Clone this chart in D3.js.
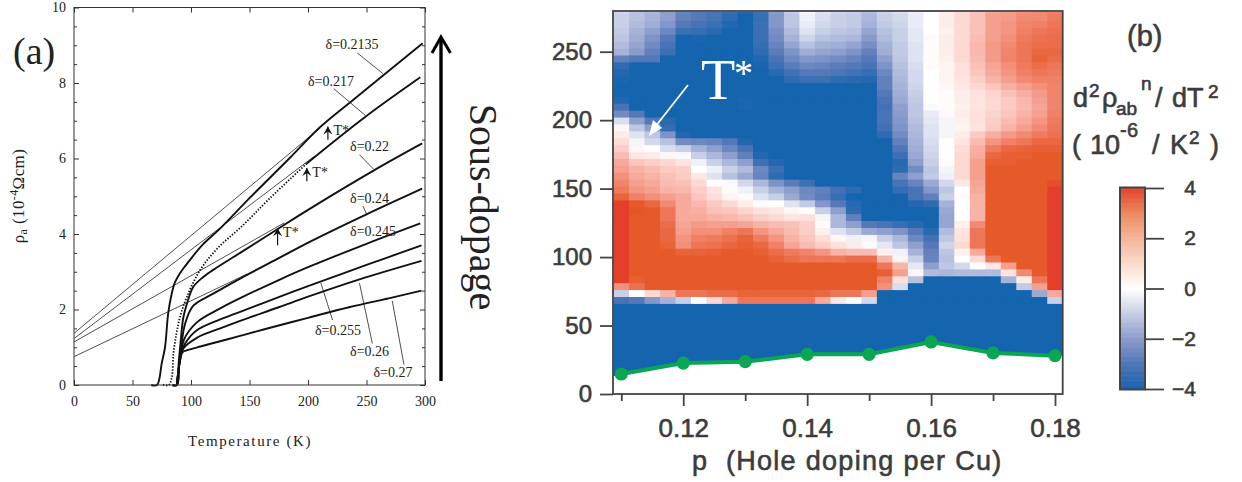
<!DOCTYPE html>
<html><head><meta charset="utf-8"><script src="https://cdn.jsdelivr.net/npm/d3@7"></script>
<style>html,body{margin:0;padding:0;background:#fff}svg{display:block}
.s{font-family:"Liberation Serif",serif;fill:#222}
.h{font-family:"Liberation Sans",Arial,sans-serif;fill:#3c3c3c;stroke:#3c3c3c;stroke-width:.6}</style></head><body>
<svg id="c" width="1242" height="482"></svg>
<script>
// Panel (a): resistivity curves, temperature (K) and rho (10^-4 ohm cm)
const xTicksA=[0,50,100,150,200,250,300], yTicksA=[0,2,4,6,8,10], yMinorA=[.5,1,1.5,2.5,3,3.5,4.5,5,5.5,6.5,7,7.5,8.5,9,9.5];
const t2135=[66,71,75,77.8,80.5,83.6,86,90.6,95,100,110,125,150,184.6,210,238.5,298];
const r2135=[0,0,.58,1,1.9,2.43,2.7,2.96,3.15,3.35,3.72,4.15,4.95,6.02,6.82,7.55,9.05];
const t217dot=[76,81,83.6,85,87.5,90.6,96.4,107.7,122,145,167.5,199];
const r217dot=[0,0,.2,.84,1.35,1.8,2.33,3.04,3.6,4.25,4.95,5.87];
const t217=[199,248,296], r217=[5.87,7.08,8.15];
const t22=[84,88,89.5,91,93.5,97,102,110,119,142,173.5,199,256,297.6];
const r22=[0,0,.6,1.1,1.8,2.2,2.6,2.85,3.05,3.5,4.12,4.62,5.68,6.4];
const t24=[84,88,90,92,95,102,119,142,175,204,250,297.6];
const r24=[0,0,.6,1.1,1.63,2.1,2.42,2.82,3.36,3.83,4.52,5.2];
const t245=[88,90,92,94,105,125,142,175,200,250,296];
const r245=[0,.55,.85,1.2,1.66,2.03,2.3,2.78,3.12,3.74,4.28];
const t255=[88,90,92,95,105,125,142,175,200,250,297];
const r255=[0,.55,.85,1.1,1.45,1.74,1.94,2.33,2.62,3.18,3.7];
const t26=[88,90,93,105,125,142,175,200,244,297];
const r26=[0,.55,.95,1.25,1.5,1.7,2.06,2.34,2.8,3.29];
const t27=[88,90,92,100,108,125,142,162,200,235,272.6,297];
const r27=[0,.55,.85,.95,1.02,1.16,1.3,1.47,1.78,2.06,2.32,2.5];
const thinT=[[0,210],[0,205],[0,180],[0,148]], thinR=[[1.37,6.8],[1.23,6.05],[1.14,4.3],[.75,2.94]];
const deltaLabels=["δ=0.2135","δ=0.217","δ=0.22","δ=0.24","δ=0.245","δ=0.255","δ=0.26","δ=0.27"];
const deltaLabelT=[215,200,236,236,236,206,236,256], deltaLabelR=[8.91,7.91,6.21,4.81,3.96,1.32,.76,.21];
const leaderT0=[242,222,244,247,0,211,244,272], leaderR0=[8.8,7.85,6.1,4.74,0,2.7,2.7,2.23];
const leaderT1=[264,249,256,250.5,0,221,255,282], leaderR1=[8.25,7.14,5.72,4.5,0,1.72,1.1,.54];
const starT=[217,199,174], starR0=[6.5,5.4,3.7], starR1=[6.85,5.75,4.15];

// Panel (b): d2rho/dT2 map. Rows run from T=280 downward, columns p=0.11 to 0.18 in 0.0025 steps
const pStart=.11, pStep=.0025, tTop=280, tStep=5.04;
const B=-4;
const heat=[
[-.9,-1.3,-1.5,-2,-2.7,-3,-3.2,-3.5,-3.9,-3.4,-2.1,-1.1,-.2,-.6,-.9,-1,-1.4,-.9,-.7,-.3,0,.5,1,1.5,2.1,2.3,2.5,2.6,2.8],
[-1,-1.3,-1.6,-2,-2.8,-3,-3.2,-3.6,-4,-3.5,-2.2,-1.2,-.3,-.7,-1,-1.1,-1.5,-1,-.8,-.4,0,.5,1,1.5,2.2,2.3,2.6,2.6,2.9],
[-1,-1.4,-1.7,-2.2,-3,-3.2,-3.4,-3.8,-4,-3.4,-2.2,-1.2,-.4,-.8,-1,-1.1,-1.6,-1.1,-.9,-.4,0,.5,1,1.5,2.2,2.4,2.7,2.8,3],
[-1.1,-1.6,-2,-2.6,-3.4,-3.5,-3.7,-4,-4,-3.4,-2.4,-1.4,-.6,-1,-1.2,-1.3,-1.9,-1.3,-1,-.5,0,.4,1,1.5,2.2,2.4,2.8,3,3.1],
[-1.2,-1.7,-2.3,-3,-4,-3.9,-4,-4,-4,-3.4,-2.5,-1.6,-.9,-1.3,-1.4,-1.5,-2.1,-1.4,-1,-.5,.1,.5,1,1.6,2.2,2.5,2.9,3.1,3.2],
[-1.4,-1.9,-2.5,-3.2,-4,-4,-4,-4,-4,-3.5,-2.7,-1.9,-1.3,-1.6,-1.7,-1.9,-2.4,-1.6,-1.1,-.6,.1,.5,1,1.7,2.3,2.6,3,3.2,3.2],
[-1.6,-2.1,-2.8,-3.4,-4,-4,-4,-4,-4,-3.6,-2.9,-2.3,-1.7,-1.9,-2,-2.3,-2.8,-1.7,-1.1,-.6,.1,.5,1,1.7,2.3,2.7,3,3.3,3.3],
[-2.8,-3,-3,-4,-4,-4,-4,-4,-4,-3.8,-3.2,-2.6,-2.2,-2.3,-2.5,-2.7,-3,-2,-1.2,-.6,.1,.4,1,1.6,2.3,2.7,3,3.4,3.2],
[-3.6,-4,-4,-4,-4,-4,-4,-4,-4,-3.9,-3.4,-2.9,-2.6,-2.7,-2.9,-3,-3.2,-2.3,-1.3,-.7,.1,.3,.8,1.5,2.1,2.5,2.9,3.2,3],
[-3.8,-4,-4,-4,-4,-4,-4,-4,-4,-4,-3.7,-3.3,-3,-3,-3.1,-3.3,-3.5,-2.6,-1.4,-.8,0,.3,.8,1.4,2,2.4,2.8,3,2.9],
[-3.9,-4,-4,-4,-4,-4,-4,-4,-4,-4,-4,-3.6,-3.4,-3.4,-3.6,-3.7,-3.8,-2.8,-1.5,-.8,0,.3,.7,1.2,1.8,2.2,2.6,2.8,2.8],
[-4,-4,-4,-4,-4,-4,-4,-4,-4,-4,-4,-4,-4,-4,-4,-4,-4,-2.8,-1.6,-.9,0,.2,.6,1,1.4,1.9,2.2,2.5,2.7],
[-4,-4,-4,-4,-4,-4,-4,-4,-4,-4,-4,-4,-4,-4,-4,-4,-4,-3,-1.7,-1,0,.1,.5,.8,1.1,1.5,1.9,2.3,2.7],
[-3.8,-4,-4,-4,-4,-4,-4,-4,-3.9,-4,-4,-4,-4,-4,-4,-4,-4,-3.2,-1.8,-1.1,0,.1,.5,.7,1,1.3,1.7,2.2,2.7],
[-3.2,-4,-4,-4,-4,-4,-4,-4,-3.9,-4,-4,-4,-4,-4,-4,-4,-4,-3.3,-2,-1.2,-.1,.1,.4,.7,1,1.3,1.7,2.1,2.7],
[-2.5,-3,-4,-4,-4,-4,-4,-4,-4,-4,-4,-4,-4,-4,-4,-4,-4,-3.2,-2.1,-1.2,-.4,-.1,.5,.8,1.1,1.4,1.8,2.2,2.8],
[-.7,-2,-3,-3.7,-4,-4,-4,-4,-4,-4,-4,-4,-4,-4,-4,-4,-4,-3.2,-2.2,-1.3,-.5,-.2,.4,.8,1.2,1.6,2,2.4,2.9],
[.2,-1.2,-2,-3.5,-4,-4,-4,-4,-4,-4,-4,-4,-4,-4,-4,-4,-4,-3.3,-2.3,-1.4,-.6,-.2,.3,.7,1.3,1.8,2.2,2.6,3],
[.5,-.6,-1.2,-2.3,-3.8,-4,-4,-4,-4,-4,-4,-4,-4,-4,-4,-4,-4,-3.6,-2.5,-1.5,-.6,-.2,.5,1.3,1.9,2.3,2.6,2.9,3.1],
[.9,-.2,-.8,-1.3,-2.5,-2.6,-2.7,-3,-3.8,-4,-4,-4,-4,-4,-4,-4,-4,-4,-2.8,-1.6,-.7,0,.7,1.6,2.4,2.8,3,3.3,3.3],
[1.2,.2,0,-.7,-1,-1.6,-2,-2.6,-3.2,-4,-4,-4,-4,-4,-4,-4,-4,-4,-3.1,-1.7,-.8,0,.9,1.9,2.9,3.3,3.4,3.5,3.5],
[1.6,.6,.5,.2,-.1,-1,-1.5,-2,-2.8,-3.8,-4,-4,-4,-4,-4,-4,-4,-4,-3.4,-1.8,-.9,0,1,2,3.3,3.5,3.5,3.6,3.6],
[2,1.4,1.2,1,.7,-.3,-1,-1.5,-2,-3.4,-3.8,-4,-4,-4,-4,-4,-4,-4,-3.7,-2,-1,.1,1,2.2,3.5,3.5,3.6,3.6,3.6],
[2.2,1.8,1.6,1.3,1.2,0,-.3,-1,-1.4,-2.6,-3.4,-4,-4,-4,-4,-4,-4,-4,-3.6,-2.5,-1.2,-.2,1,2.2,3.6,3.6,3.6,3.6,3.6],
[2.5,2,1.8,1.5,1.3,.6,-.6,-1.3,-1.8,-2.7,-3.6,-4,-4,-4,-4,-4,-4,-4,-2.7,-2,-1.1,-.3,1,2.2,3.6,3.6,3.6,3.6,3.6],
[2.7,2.2,2,1.6,1.5,1,0,-.1,-.8,-1.5,-2.3,-2.9,-3.4,-4,-4,-4,-4,-4,-3.2,-2.7,-1.8,-.8,.6,2.1,3.6,3.6,3.6,3.6,3.8],
[2.9,2.4,2.2,1.8,1.7,1.2,.7,.1,-.3,-1,-1.6,-2,-2.6,-2.8,-3.3,-3.6,-4,-4,-3.5,-3.2,-2.2,-1.2,0,2,3.6,3.6,3.6,3.6,4],
[3.4,2.8,2.5,2.2,2,1.4,.9,.3,.1,-.6,-1,-1.8,-2.5,-2.9,-3.5,-4,-4,-4,-4,-3.2,-2.8,-1,.1,1.8,3.6,3.6,3.6,3.6,4],
[4,3.6,3.3,2.6,2,1.7,1.3,1,.5,.1,0,-.6,-1.1,-2.2,-3,-3.7,-4,-4,-4,-3.8,-3.6,-1.6,0,1.8,3.6,3.6,3.6,3.6,4],
[4,3.7,3.6,3,2,1.9,1.5,1.4,1.1,.8,.6,.2,0,-1,-2,-3.6,-4,-4,-4,-4,-4,-1.8,0,1.8,3.6,3.6,3.6,3.6,4],
[4,3.6,3.6,3,2,2,1.8,1.7,1.5,1.2,1,.7,.8,-.2,-1.5,-2.8,-4,-4,-4,-4,-4,-1.9,0,1.8,3.6,3.6,3.6,3.6,4],
[4,3.6,3.6,3.2,2.1,2.3,2.2,2.2,2.1,1.8,1.6,1.5,1.2,.1,-1.5,-2,-3,-3.2,-3.5,-3.7,-4,-1.9,.4,2.6,3.6,3.6,3.6,3.6,4],
[4,3.6,3.6,3.3,2.2,2.5,2.5,2.8,3,2.4,2,1.6,1.2,.4,-.6,-1.1,-1.8,-2,-2.3,-3,-3.7,-1.4,.7,3,3.6,3.6,3.6,3.6,4],
[4,3.6,3.6,3.3,2.4,2.8,2.9,3.1,3.4,2.9,2.4,1.8,1.4,.9,.2,-.3,-.2,-1,-1.5,-2.6,-3.3,-1.2,.8,3,3.6,3.6,3.6,3.6,4],
[4,3.6,3.6,3.4,2.5,3,3.1,3.3,3.5,3.3,2.8,2.1,1.6,1.2,.8,.5,.1,-.5,-1.2,-2,-3,-.9,1,3,3.6,3.6,3.6,3.6,4],
[4,3.6,3.6,3.6,3.4,3.4,3.5,3.6,3.6,3.5,3.2,2.9,2.7,2.4,1.8,1.6,1.6,.4,-.3,-1.6,-2.8,-1.2,.4,2,3.6,3.6,3.6,3.6,4],
[4,3.6,3.6,3.6,3.6,3.6,3.6,3.6,3.6,3.6,3.4,3.2,3,3,3,3.2,3.2,1.8,.3,-1,-2.7,-1.3,0,1,3,3.6,3.6,3.6,4],
[4,3.6,3.6,3.6,3.6,3.6,3.6,3.6,3.6,3.6,3.6,3.6,3.6,3.6,3.6,3.6,3.6,3,1.8,-.5,-2,-1.2,-.8,0,.6,2.2,3.6,3.6,4],
[4,3.6,3.6,3.6,3.6,3.6,3.6,3.6,3.6,3.6,3.6,3.6,3.6,3.6,3.6,3.6,3.6,3.5,2.2,.3,-1.4,-1.5,-1.4,-1.4,-1.4,.7,2.6,3.6,4],
[4,3.5,3.6,3.6,3.6,3.6,3.6,3.6,3.6,3.6,3.6,3.6,3.6,3.6,3.6,3.6,3.6,2.8,.8,-1.3,-4,-4,-4,-4,-4,-1.6,.5,3,4],
[2.5,3.1,3.6,3.6,3.6,3.6,3.6,3.6,3.6,3.6,3.6,3.6,3.6,3.6,3.6,3.6,3.6,2.5,-.7,-4,-4,-4,-4,-4,-4,-4,-1.1,2.2,4],
[-1,0,1,1.8,3,3,3.2,3.2,3.4,3.4,3.4,3.4,3.4,3.3,3,3,2.2,-4,-4,-4,-4,-4,-4,-4,-4,-4,-4,-1.8,2],
[-3.2,-3,-2.2,-1.6,-1,0,1,2,3,3,3,3,3,2,.6,0,-.8,-4,-4,-4,-4,-4,-4,-4,-4,-4,-4,-4,-1],
...Array(12).fill([B,B,B,B,B,B,B,B,B,B,B,B,B,B,B,B,B,B,B,B,B,B,B,B,B,B,B,B,B])
];
const tcP=[.11,.12,.13,.14,.15,.16,.17,.18], tcT=[14.6,22.6,23.6,29,29,38,30,28];
const xTicksB=[.11,.12,.13,.14,.15,.16,.17,.18], xLabelsB=[.12,.14,.16,.18], yTicksB=[0,50,100,150,200,250];
const heatStops=[-4,-3,-2,-1,0,1,2,3,3.6,4];
const heatColors=["#1464ae","#5578b8","#8f9fcd","#c8d0e8","#ffffff","#fcd9d3","#f7a99c","#ee7658","#e65a2a","#e3402c"];
const barStops=[-4,-3,-2,-1,0,1,2,3,4];
const barColors=["#1763b0","#4f75b6","#8a9bcb","#c5cde4","#ffffff","#fadccc","#f4b59a","#ec8a60","#e3432c"];
const barTicks=[4,2,0,-2,-4];

const svg=d3.select("#c");
// ---- Panel (a)
const xa=d3.scaleLinear().domain([0,300]).range([74,425]);
const ya=d3.scaleLinear().domain([0,10]).range([385,7.5]);
const gA=svg.append("g");
const ln=d3.line().x(d=>xa(d[0])).y(d=>ya(d[1])).curve(d3.curveCatmullRom.alpha(.5));
const zip=(a,b)=>a.map((v,i)=>[v,b[i]]);
thinT.forEach((t,i)=>gA.append("path").attr("d",d3.line().x(d=>xa(d[0])).y(d=>ya(d[1]))(zip(t,thinR[i]))).attr("fill","none").attr("stroke","#222").attr("stroke-width",.8));
[[t2135,r2135],[t217,r217],[t22,r22],[t24,r24],[t245,r245],[t255,r255],[t26,r26],[t27,r27]].forEach(([t,r])=>
  gA.append("path").attr("d",ln(zip(t,r))).attr("fill","none").attr("stroke","#111").attr("stroke-width",1.9));
gA.append("path").attr("d",ln(zip(t217dot,r217dot))).attr("fill","none").attr("stroke","#111").attr("stroke-width",1.8).attr("stroke-dasharray","1.4 1.6");
// frame and ticks
gA.append("rect").attr("x",xa(0)).attr("y",ya(10)).attr("width",xa(300)-xa(0)).attr("height",ya(0)-ya(10)).attr("fill","none").attr("stroke","#333").attr("stroke-width",1);
const styleA=g=>{g.select(".domain").remove();g.selectAll("line").attr("stroke","#333");g.selectAll("text").attr("class","s").attr("font-size",14).attr("font-family","Liberation Serif").attr("fill","#222");};
gA.append("g").attr("transform",`translate(0,${ya(0)})`).call(d3.axisBottom(xa).tickValues(xTicksA).tickFormat(d3.format("d")).tickSizeInner(-5).tickPadding(11)).call(styleA);
gA.append("g").attr("transform",`translate(0,${ya(10)})`).call(d3.axisTop(xa).tickValues(xTicksA).tickFormat("").tickSizeInner(-5)).call(styleA);
gA.append("g").attr("transform",`translate(${xa(0)},0)`).call(d3.axisLeft(ya).tickValues(yTicksA).tickFormat(d3.format("d")).tickSizeInner(-5).tickPadding(8)).call(styleA);
gA.append("g").attr("transform",`translate(${xa(0)},0)`).call(d3.axisLeft(ya).tickValues(yMinorA).tickFormat("").tickSizeInner(-3)).call(styleA);
gA.append("g").attr("transform",`translate(${xa(300)},0)`).call(d3.axisRight(ya).tickValues(yTicksA).tickFormat("").tickSizeInner(-5)).call(styleA);
gA.append("g").attr("transform",`translate(${xa(300)},0)`).call(d3.axisRight(ya).tickValues(yMinorA).tickFormat("").tickSizeInner(-3)).call(styleA);
// delta labels & leaders
deltaLabels.forEach((s,i)=>{
  gA.append("text").attr("class","s").attr("x",xa(deltaLabelT[i])).attr("y",ya(deltaLabelR[i])).attr("font-size",14).text(s);
  if(leaderT0[i]) gA.append("line").attr("x1",xa(leaderT0[i])).attr("y1",ya(leaderR0[i])).attr("x2",xa(leaderT1[i])).attr("y2",ya(leaderR1[i])).attr("stroke","#222").attr("stroke-width",.8);
});
starT.forEach((t,i)=>{
  const x=xa(t),y0=ya(starR0[i]),y1=ya(starR1[i]);
  gA.append("line").attr("x1",x).attr("x2",x).attr("y1",y0).attr("y2",y1).attr("stroke","#111").attr("stroke-width",1.2);
  gA.append("path").attr("d",`M${x-4.5},${y1+8}L${x},${y1}L${x+4.5},${y1+8}L${x},${y1+5}Z`).attr("fill","#111");
  gA.append("text").attr("class","s").attr("x",x+5.5).attr("y",y1+9).attr("font-size",14).text("T*");
});
gA.append("text").attr("class","s").attr("x",250).attr("y",446).attr("text-anchor","middle").attr("font-size",15).attr("letter-spacing",1.6).text("Temperature (K)");
const yl=gA.append("text").attr("class","s").attr("transform","translate(24,196) rotate(-90)").attr("text-anchor","middle").attr("font-size",17).attr("letter-spacing",.4);
yl.append("tspan").text("ρ");yl.append("tspan").attr("dy",3).attr("font-size",12).text("a");
yl.append("tspan").attr("dy",-3).text(" (10");yl.append("tspan").attr("dy",-6).attr("font-size",12).text("-4");
yl.append("tspan").attr("dy",6).text("Ωcm)");
gA.append("text").attr("class","s").attr("x",13).attr("y",64).attr("font-size",38).attr("fill","#111").text("(a)");
// big arrow
gA.append("line").attr("x1",441).attr("x2",441).attr("y1",381).attr("y2",40).attr("stroke","#000").attr("stroke-width",3.4);
gA.append("path").attr("d","M432,53L441,37L450.5,53").attr("fill","none").attr("stroke","#000").attr("stroke-width",3);
gA.append("text").attr("class","s").attr("transform","translate(470,207) rotate(90)").attr("text-anchor","middle").attr("font-size",40).attr("fill","#111").text("Sous-dopage");

// ---- Panel (b)
const xb=d3.scaleLinear().domain([.11,.18]).range([621.3,1055]);
const yb=d3.scaleLinear().domain([0,250]).range([394,51.7]);
const heatScale=d3.scaleLinear().domain(heatStops).range(heatColors).clamp(true);
const barScale=d3.scaleLinear().domain(barStops).range(barColors);
const gB=svg.append("g");
const fL=613, fR=1062.7, fT=11, fB=394;
const clipArea=d3.area().x(d=>d[0]).y0(yb(279)).y1(d=>yb(d[1]));
const clipPts=[[fL,tcT[0]-1.8],...tcP.map((p,i)=>[xb(p),tcT[i]]),[fR,tcT[tcT.length-1]]];
svg.append("clipPath").attr("id","hc").append("path").attr("d",clipArea(clipPts));
const cells=gB.append("g").attr("clip-path","url(#hc)");
heat.forEach((row,r)=>{
  const T=tTop-r*tStep;
  row.forEach((v,c)=>{
    const p=pStart+c*pStep;
    const x0=xb(p-pStep/2),x1=xb(p+pStep/2),y0=yb(T+tStep/2),y1=yb(T-tStep/2);
    cells.append("rect").attr("x",x0).attr("y",y0).attr("width",x1-x0+.8).attr("height",y1-y0+.8).attr("fill",heatScale(v));
  });
});
gB.append("path").attr("d",d3.line().x(d=>xb(d[0])).y(d=>yb(d[1]))(zip(tcP,tcT))).attr("fill","none").attr("stroke","#0aa653").attr("stroke-width",4);
gB.selectAll(".tc").data(zip(tcP,tcT)).join("circle").attr("cx",d=>xb(d[0])).attr("cy",d=>yb(d[1])).attr("r",6.6).attr("fill","#0aa653");
gB.append("rect").attr("x",fL).attr("y",fT).attr("width",fR-fL).attr("height",fB-fT).attr("fill","none").attr("stroke","#444").attr("stroke-width",1.8);
const styleB=g=>{g.select(".domain").remove();g.selectAll("line").attr("stroke","#444").attr("stroke-width",1.8);g.selectAll("text").attr("class","h").attr("font-size",24).attr("font-family","Liberation Sans");};
gB.append("g").attr("transform",`translate(${fL},0)`).call(d3.axisLeft(yb).tickValues(yTicksB).tickFormat(d3.format("d")).tickSizeInner(13).tickPadding(8)).call(styleB);
gB.append("g").attr("transform",`translate(0,${fB})`).call(d3.axisBottom(xb).tickValues(xTicksB).tickFormat(d=>xLabelsB.includes(d)?d3.format(".2f")(d):"").tickSize(0).tickPadding(0)).call(g=>{
  styleB(g);
  g.selectAll(".tick line").attr("y2",d=>xLabelsB.includes(d)?12:7);
  g.selectAll(".tick text").attr("dy","0.71em").attr("y",25).attr("font-size",26);
});
gB.append("text").attr("class","h").attr("x",692).attr("y",470).attr("font-size",27).attr("letter-spacing",1.3).style("white-space","pre").text("p  (Hole doping per Cu)");
// T* annotation
gB.append("line").attr("x1",688).attr("y1",85).attr("x2",655).attr("y2",127).attr("stroke","#fff").attr("stroke-width",1.8);
gB.append("path").attr("d","M649,136L653,120L662,128Z").attr("fill","#fff");
gB.append("text").attr("x",701).attr("y",99).attr("font-family","Liberation Serif").attr("font-size",56).attr("fill","#fff").text("T");
gB.append("text").attr("x",734).attr("y",86).attr("font-family","Liberation Serif").attr("font-size",38).attr("fill","#fff").text("*");
// right labels: [x, baseline y, text, size]
const labelParts=[[1127,46,"(b)",29],
 [1073,107,"d",27],[1089,97,"2",19],[1102,107,"ρ",27],[1116,115,"ab",19],[1141,90,"n",19],[1155,107,"/",27],[1172,107,"dT",27],[1208,98,"2",19],
 [1072,154,"(",27],[1090,154,"10",27],[1120,137,"-",20],[1127,137,"6",20],[1152,154,"/",27],[1170,154,"K",27],[1189,144,"2",19],[1210,154,")",27]];
labelParts.forEach(d=>gB.append("text").attr("class","h").attr("x",d[0]).attr("y",d[1]).attr("font-size",d[3]).text(d[2]));
// colour bar
const yc=d3.scaleLinear().domain([-4,4]).range([389,188]);
gB.append("g").selectAll("rect").data(d3.range(-4,4,.05)).join("rect")
  .attr("x",1120).attr("width",25).attr("y",d=>yc(d+.05)).attr("height",d=>yc(d)-yc(d+.05)+.6).attr("fill",d=>barScale(d+.025));
gB.append("rect").attr("x",1120).attr("y",187.5).attr("width",25).attr("height",202).attr("fill","none").attr("stroke","#444").attr("stroke-width",2);
gB.append("g").attr("transform","translate(1145,0)").call(d3.axisRight(yc).tickValues(barTicks).tickFormat(d3.format("d")).tickSizeInner(19).tickPadding(12)).call(g=>{
  styleB(g);g.selectAll("text").attr("font-size",21).attr("text-anchor","end").attr("x",51);
});
</script></body></html>
